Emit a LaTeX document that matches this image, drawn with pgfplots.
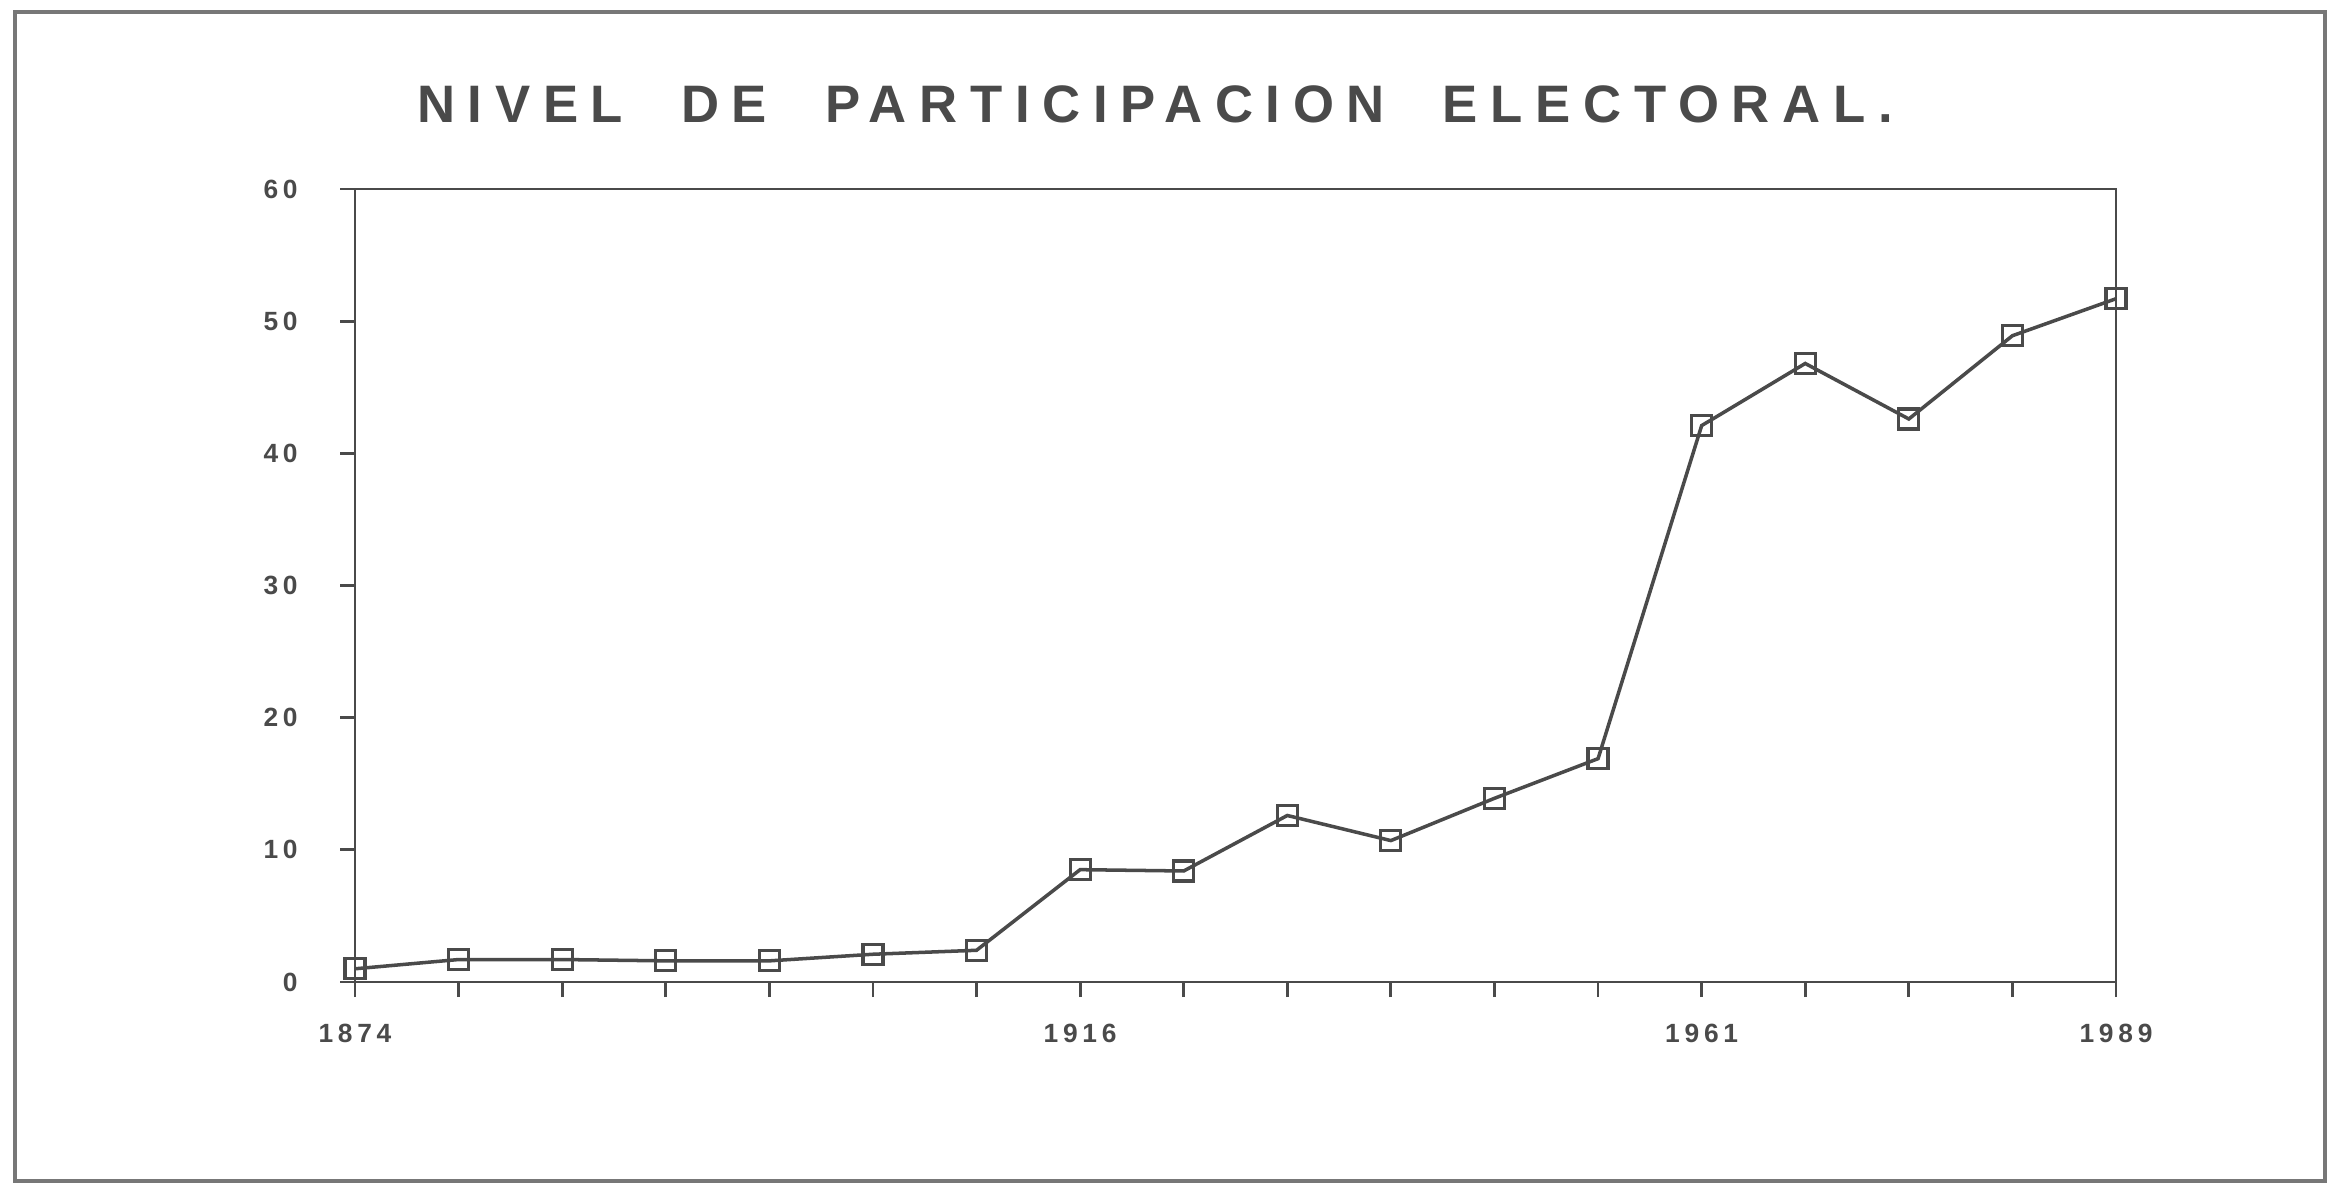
\documentclass[border=0pt]{standalone}
\usepackage{fontspec}
\setmainfont{Liberation Sans}
\newfontfamily\spaced[LetterSpace=18]{Liberation Sans}
\newfontfamily\titlef[LetterSpace=24]{Liberation Sans}
\usepackage{pgfplots}
\pgfplotsset{compat=1.18}
\definecolor{ink}{HTML}{4A4A4A}
\begin{document}
\begin{tikzpicture}
\useasboundingbox (0,0) rectangle (23.33cm,11.86cm);
\draw[ink!75, line width=0.9pt] (0.15cm,0.05cm) rectangle (23.25cm,11.74cm);
\node[ink, font=\titlef\bfseries\fontsize{15}{17}\selectfont] at (11.55cm,10.82cm) {NIVEL\hspace{1.1em}DE\hspace{1.1em}PARTICIPACION\hspace{1.1em}ELECTORAL.};
\begin{axis}[at={(3.55cm,2.04cm)}, anchor=south west, scale only axis,
  width=17.61cm, height=7.93cm,
  xmin=0, xmax=17, ymin=0, ymax=60,
  xtick={0,...,17},
  xticklabels={1874,,,,,,,1916,,,,,,1961,,,,1989},
  ytick={0,10,...,60},
  tick align=outside, xtick pos=bottom, ytick pos=left,
  major tick length=0.15cm,
  axis line style={ink, line width=0.8pt},
  tick style={ink, line width=0.8pt},
  ticklabel style={font=\spaced\bfseries\fontsize{7.5}{9}\selectfont, text=ink},
  /pgf/number format/assume math mode=true,
  xticklabel style={yshift=-0.15cm},
  yticklabel style={xshift=-0.3cm},
  ]
\addplot[ink, line width=1pt, mark=square, mark size=1mm, mark options={line width=0.9pt, fill=white}] coordinates {
(0,1.0) (1,1.7) (2,1.7) (3,1.6) (4,1.6) (5,2.1) (6,2.4) (7,8.5) (8,8.4)
(9,12.6) (10,10.7) (11,13.9) (12,16.9) (13,42.1) (14,46.8) (15,42.6) (16,48.9) (17,51.7)
};
\end{axis}
\end{tikzpicture}
\end{document}
